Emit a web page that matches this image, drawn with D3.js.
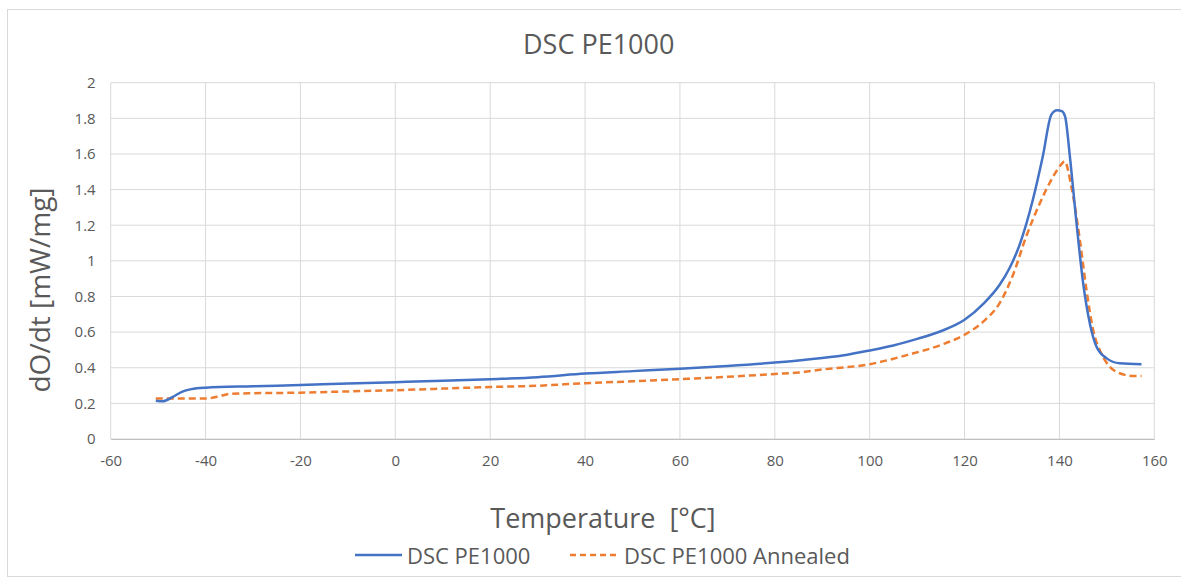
<!DOCTYPE html>
<html><head><meta charset="utf-8">
<script src="https://cdn.jsdelivr.net/npm/d3@7"></script>
<style>html,body{margin:0;padding:0;background:#fff;}svg{display:block;}</style>
</head><body>
<svg id="chart" width="1181" height="578"></svg>
<script>
const title = "DSC PE1000";
const xTitle = "Temperature\u00A0\u00A0[°C]";
const yTitle = "dO/dt [mW/mg]";
const seriesNames = ["DSC PE1000", "DSC PE1000 Annealed"];
const xTicks = [-60,-40,-20,0,20,40,60,80,100,120,140,160];
const yTicks = [0,0.2,0.4,0.6,0.8,1,1.2,1.4,1.6,1.8,2];

const tempA = [-50.5,-49,-47,-45,-43,-40,-30,-20,-10,0,10,20,30,40,50,60,70,80,90,95,100,105,110,115,120,124,127.4,129.5,131.6,134.4,136.5,138.3,139.5,140.5,141.2,142.2,143.6,145,146.4,147.8,149.9,152.7,157.3];
const valA  = [0.215,0.212,0.235,0.265,0.28,0.288,0.296,0.303,0.311,0.319,0.327,0.336,0.347,0.367,0.381,0.395,0.41,0.429,0.455,0.472,0.497,0.525,0.562,0.605,0.669,0.76,0.866,0.96,1.09,1.343,1.587,1.821,1.845,1.84,1.81,1.587,1.212,0.875,0.65,0.519,0.454,0.425,0.42];

const tempB = [-50.5,-40,-37,-35,-30,-20,-10,0,10,20,30,40,50,60,70,80,85,90,100,108,115,120,124,127.4,130.2,133,135.9,138.7,140.5,141.1,142.5,144.3,145.7,147.1,148.8,150.6,152.7,155.5,157.3];
const valB  = [0.227,0.227,0.24,0.253,0.257,0.26,0.267,0.274,0.283,0.292,0.299,0.313,0.324,0.336,0.349,0.365,0.373,0.39,0.42,0.472,0.528,0.585,0.66,0.763,0.92,1.137,1.325,1.474,1.545,1.559,1.418,1.119,0.838,0.613,0.482,0.406,0.369,0.354,0.354];

const colors = ["#4472C4", "#ED7D31"];
const textColor = "#595959";
const font = "'Open Sans', 'Liberation Sans', sans-serif";

const svg = d3.select("#chart");
svg.append("rect").attr("x",7.5).attr("y",9.5).attr("width",1180).attr("height",567)
  .attr("fill","#fff").attr("stroke","#d9d9d9");

const pL = 110.7, pR = 1154.3, pT = 82.7, pB = 439;
const x = d3.scaleLinear().domain([-60,160]).range([pL,pR]);
const y = d3.scaleLinear().domain([0,2]).range([pB,pT]);

// gridlines
const g = svg.append("g");
g.selectAll(".hg").data(yTicks).join("line")
  .attr("x1",pL).attr("x2",pR).attr("y1",d=>y(d)).attr("y2",d=>y(d))
  .attr("stroke","#d9d9d9").attr("stroke-width",1);
g.selectAll(".vg").data(xTicks).join("line")
  .attr("y1",pT).attr("y2",pB).attr("x1",d=>x(d)).attr("x2",d=>x(d))
  .attr("stroke","#d9d9d9").attr("stroke-width",1);

// axes
const xAxis = d3.axisBottom(x).tickValues(xTicks).tickSize(0).tickPadding(16).tickFormat(d=>d);
const yAxis = d3.axisLeft(y).tickValues(yTicks).tickSize(0).tickPadding(15).tickFormat(d=>d);
const gx = svg.append("g").attr("transform",`translate(0,${pB})`).call(xAxis);
const gy = svg.append("g").attr("transform",`translate(${pL},0)`).call(yAxis);
[gx,gy].forEach(a=>{
  a.select(".domain").attr("stroke","#bfbfbf");
  a.selectAll("text").attr("fill",textColor).style("font-family",font).style("font-size","15px");
});
gx.selectAll(".tick text").text(d=>d<0?"-"+Math.abs(d):d);
gy.select(".domain").remove();

// lines
const line = d3.line().x(d=>x(d[0])).y(d=>y(d[1])).curve(d3.curveMonotoneX);
const dataA = tempA.map((t,i)=>[t,valA[i]]);
const dataB = tempB.map((t,i)=>[t,valB[i]]);
svg.append("path").datum(dataB).attr("d",line).attr("fill","none")
  .attr("stroke",colors[1]).attr("stroke-width",2.5).attr("stroke-dasharray","7,4");
svg.append("path").datum(dataA).attr("d",line).attr("fill","none")
  .attr("stroke",colors[0]).attr("stroke-width",2.5).attr("stroke-linejoin","round");

// titles
svg.append("text").attr("x",598.7).attr("y",54).attr("text-anchor","middle")
  .attr("fill",textColor).style("font-family",font).style("font-size","27px").text(title);
svg.append("text").attr("x",603).attr("y",528).attr("text-anchor","middle")
  .attr("fill",textColor).style("font-family",font).style("font-size","27px").text(xTitle);
svg.append("text").attr("transform","translate(50,290) rotate(-90)").attr("text-anchor","middle")
  .attr("fill",textColor).style("font-family",font).style("font-size","28px").text(yTitle);

// legend
const leg = svg.append("g");
const legItems = [{x:355,x2:402,tx:407,c:colors[0],dash:null,name:seriesNames[0]},{x:570,x2:618,tx:624,c:colors[1],dash:"6,4",name:seriesNames[1]}];
legItems.forEach(it=>{
  leg.append("line").attr("x1",it.x).attr("x2",it.x2).attr("y1",555).attr("y2",555)
    .attr("stroke",it.c).attr("stroke-width",2.5).attr("stroke-dasharray",it.dash);
  leg.append("text").attr("x",it.tx).attr("y",564).attr("fill",textColor)
    .style("font-family",font).style("font-size","22px").text(it.name);
});
</script>
</body></html>
